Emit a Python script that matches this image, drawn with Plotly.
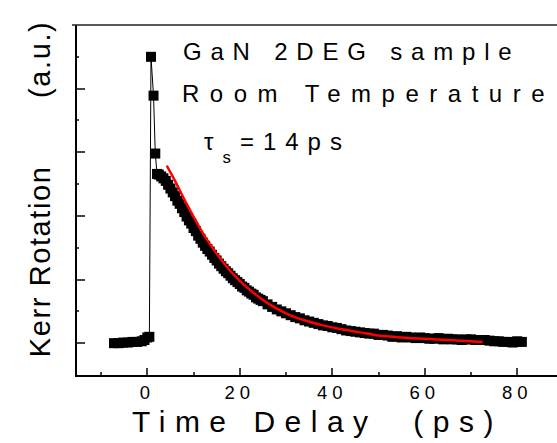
import plotly.graph_objects as go

# ---------------- data ----------------
pre_t = [-7.2, -6.2, -5.2, -4.2, -3.2, -2.2, -1.2, -0.6, 0.0, 0.45]
pre_v = [0.00, 0.00, 0.01, 0.01, 0.02, 0.02, 0.03, 0.05, 0.09, 0.10]

peak_t = [0.8, 1.35, 1.73, 2.1]
peak_v = [4.50, 3.89, 2.98, 2.66]

decay_t = [2.5, 3.0, 3.5, 4.0, 4.5, 5.0, 5.5, 6.0, 6.5, 7.0, 7.5, 8.0, 8.5, 9.0, 9.5, 10.0,
           10.5, 11.0, 11.5, 12.0, 12.5, 13.0, 13.5, 14.0, 14.5, 15.0, 15.5, 16.0, 16.5, 17.0,
           17.5, 18.0, 18.5, 19.0, 19.5, 20.0, 20.5, 21.0, 21.5, 22.0, 22.5, 23.0, 23.5, 24.0,
           24.5, 25.0, 26, 27, 28, 29, 30, 31, 32, 33, 34, 35, 36, 37, 38, 39, 40,
           41, 42, 43, 44, 45, 46, 47, 48, 49, 50, 51, 52, 53, 54, 55, 56, 57, 58, 59, 60,
           61, 62, 63, 64, 65, 66, 67, 68, 69, 70, 71, 72, 73, 74, 75, 76, 77, 78, 79, 80, 81]
decay_v = [2.65, 2.62, 2.59, 2.55, 2.49, 2.43, 2.37, 2.31, 2.24, 2.19, 2.12, 2.06, 1.99, 1.93, 1.88, 1.81,
           1.76, 1.69, 1.64, 1.58, 1.53, 1.48, 1.44, 1.39, 1.34, 1.30, 1.25, 1.21, 1.17, 1.13,
           1.10, 1.06, 1.02, 0.99, 0.96, 0.93, 0.89, 0.87, 0.83, 0.81, 0.78, 0.76, 0.72, 0.70,
           0.68, 0.66, 0.61, 0.57, 0.53, 0.50, 0.47, 0.44, 0.41, 0.39, 0.36, 0.34, 0.32, 0.30, 0.28, 0.27, 0.25,
           0.24, 0.22, 0.20, 0.19, 0.18, 0.17, 0.16, 0.15, 0.15, 0.13, 0.13, 0.12, 0.10, 0.11, 0.09, 0.10, 0.09, 0.08, 0.09, 0.08,
           0.07, 0.07, 0.08, 0.06, 0.07, 0.06, 0.06, 0.05, 0.06, 0.06, 0.05, 0.05, 0.05, 0.04, 0.03, 0.03, 0.02, 0.02, 0.01, 0.03, 0.02]

fit_t = [4.2, 6, 8, 10, 12, 14, 16, 18, 20, 23, 26, 30, 34, 38, 42, 46, 50, 55, 60, 65, 72.5]
fit_v = [2.79, 2.55, 2.26, 1.99, 1.73, 1.51, 1.31, 1.13, 0.98, 0.79, 0.63, 0.47, 0.36, 0.28, 0.22, 0.17, 0.12, 0.09, 0.07, 0.05, 0.02]

x_ticks = [0, 20, 40, 60, 80]
x_tick_labels = ["0", "20", "40", "60", "80"]

texts = ["GaN 2DEG sample", "Room Temperature", "τ<sub>s</sub>=14ps"]
x_title = "Time Delay  (ps)"
y_title = "Kerr Rotation       (a.u.)"

# ---------------- figure ----------------
W, H = 557, 443
ML, MR, MT, MB = 77, 0, 25, 68
PW, PH = W - ML - MR, H - MT - MB

def px(xp):
    return (xp - ML) / PW

def py(yp):
    return (H - MB - yp) / PH

FONT = "Liberation Sans, Arial, sans-serif"

data_t = pre_t + peak_t + decay_t
data_v = pre_v + peak_v + decay_v

fig = go.Figure()
fig.add_trace(go.Scatter(
    x=data_t, y=data_v, mode="lines+markers",
    line=dict(color="black", width=1),
    marker=dict(symbol="square", size=10, color="black", line=dict(width=0)),
    showlegend=False, hoverinfo="skip"))
fig.add_trace(go.Scatter(
    x=fit_t, y=fit_v, mode="lines",
    line=dict(color="#ff0000", width=2.5, shape="spline", smoothing=0.8),
    showlegend=False, hoverinfo="skip"))

ann = []
ann.append(dict(text=texts[0], x=px(183), y=py(38.3), xanchor="left", yanchor="top",
                font=dict(size=24)))
ann.append(dict(text=texts[1], x=px(182), y=py(80.3), xanchor="left", yanchor="top",
                font=dict(size=24)))
ann.append(dict(text=texts[2], x=px(204), y=py(128.3), xanchor="left", yanchor="top",
                font=dict(size=24)))
ann.append(dict(text=x_title, x=px(132), y=py(405), xanchor="left", yanchor="top",
                font=dict(size=30)))
ann.append(dict(text=y_title, x=px(39.7), y=py(357), xanchor="center", yanchor="bottom",
                textangle=-90, font=dict(size=29)))
for a in ann:
    a.update(xref="paper", yref="paper", showarrow=False, align="left",
             borderpad=0, borderwidth=0)
    a["font"].update(family=FONT, color="black")

fig.update_layout(
    width=W, height=H, autosize=False,
    margin=dict(l=ML, r=MR, t=MT, b=MB, pad=0),
    paper_bgcolor="white", plot_bgcolor="white",
    font=dict(family=FONT, color="black"),
    annotations=ann,
    shapes=[dict(type="line", xref="paper", yref="paper", x0=px(72), x1=1.0, y0=1.0, y1=1.0,
                 line=dict(color="#222", width=1.3), layer="above")],
)
fig.update_xaxes(
    range=[-15.2, 88.6], showgrid=False, zeroline=False,
    showline=True, linewidth=2, linecolor="black", mirror=False,
    ticks="inside", ticklen=7, tickwidth=1.5, tickcolor="#444",
    tickmode="array", tickvals=x_ticks, ticktext=x_tick_labels,
    tickfont=dict(size=18.5, family=FONT, color="black"),
    minor=dict(dtick=10, tick0=0, ticks="inside", ticklen=3, tickwidth=1.5, tickcolor="#444"),
)
fig.update_yaxes(
    range=[-0.5, 5.0], showgrid=False, zeroline=False,
    showline=True, linewidth=2, linecolor="black", mirror=False,
    ticks="inside", ticklen=8, tickwidth=1.5, tickcolor="#444",
    dtick=1, tick0=0, showticklabels=False,
    minor=dict(dtick=0.5, tick0=0, ticks="inside", ticklen=2, tickwidth=1.5, tickcolor="#444"),
)

post = """
document.body.style.margin = '0';
document.body.style.padding = '0';
var spacing = {0: '8.8px', 1: '10.5px', 2: '9px', 3: '9.5px', 4: '1.6px'};
document.querySelectorAll('g.annotation').forEach(function(g){
  var i = g.getAttribute('data-index');
  var t = g.querySelector('text.annotation-text');
  if (t && spacing[i] !== undefined) { t.style.letterSpacing = spacing[i]; }
  if (i === '2' && t) {
    t.querySelectorAll('tspan').forEach(function(s){
      var dy = s.getAttribute('dy');
      if (dy === '0.3em') s.setAttribute('dy', '0.77em');
      else if (dy === '-0.21em') s.setAttribute('dy', '-0.54em');
    });
  }
});
document.querySelectorAll('.xtick text').forEach(function(t){ t.style.letterSpacing = '5px'; });
"""

fig.write_html("out.html", post_script=post, config={"displayModeBar": False})
